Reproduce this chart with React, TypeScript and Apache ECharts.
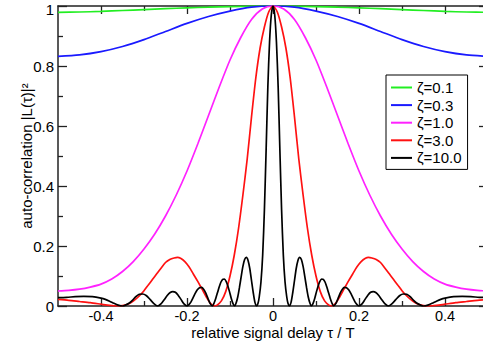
import React, { useEffect, useRef } from "react";
import * as echarts from "echarts";

const FONT = "'Liberation Sans', Arial, Helvetica, sans-serif";

const seriesNames = ["ζ=0.1", "ζ=0.3", "ζ=1.0", "ζ=3.0", "ζ=10.0"];
const seriesColors = ["#22ee22", "#1a1aff", "#ff22ff", "#ff1111", "#000000"];

const xMajorTicks = [-0.4, -0.2, 0, 0.2, 0.4];
const xMinorTicks = [-0.3, -0.1, 0.1, 0.3];

const zeta01: [number, number][] = [
  [-0.5, 0.979], [-0.45, 0.98], [-0.4, 0.982], [-0.35, 0.985], [-0.3, 0.988], [-0.25, 0.991],
  [-0.2, 0.994], [-0.15, 0.996], [-0.1, 0.998], [-0.05, 0.9995], [0, 1], [0.05, 0.9995],
  [0.1, 0.998], [0.15, 0.996], [0.2, 0.994], [0.25, 0.991], [0.3, 0.988], [0.35, 0.985],
  [0.4, 0.982], [0.45, 0.98], [0.5, 0.979],
];

const zeta03: [number, number][] = [
  [-0.5, 0.832], [-0.45, 0.837], [-0.4, 0.848], [-0.35, 0.865], [-0.3, 0.888], [-0.25, 0.915],
  [-0.2, 0.942], [-0.15, 0.965], [-0.1, 0.983], [-0.05, 0.996], [0, 1], [0.05, 0.996],
  [0.1, 0.983], [0.15, 0.965], [0.2, 0.942], [0.25, 0.915], [0.3, 0.888], [0.35, 0.865],
  [0.4, 0.848], [0.45, 0.837], [0.5, 0.832],
];

const zeta10: [number, number][] = [
  [-0.5, 0.05], [-0.475, 0.052], [-0.45, 0.056], [-0.425, 0.063], [-0.4, 0.073], [-0.375, 0.09],
  [-0.35, 0.115], [-0.325, 0.148], [-0.3, 0.19], [-0.275, 0.24], [-0.25, 0.3], [-0.225, 0.37],
  [-0.2, 0.45], [-0.175, 0.54], [-0.15, 0.635], [-0.125, 0.73], [-0.1, 0.82], [-0.075, 0.895],
  [-0.05, 0.955], [-0.025, 0.99], [0, 1], [0.025, 0.99], [0.05, 0.955], [0.075, 0.895],
  [0.1, 0.82], [0.125, 0.73], [0.15, 0.635], [0.175, 0.54], [0.2, 0.45], [0.225, 0.37],
  [0.25, 0.3], [0.275, 0.24], [0.3, 0.19], [0.325, 0.148], [0.35, 0.115], [0.375, 0.09],
  [0.4, 0.073], [0.425, 0.063], [0.45, 0.056], [0.475, 0.052], [0.5, 0.05],
];

const zeta30: [number, number][] = [
  [-0.5, 0.022], [-0.475, 0.019], [-0.45, 0.015], [-0.425, 0.011], [-0.4, 0.006], [-0.38, 0.002],
  [-0.362, 0], [-0.35, 0.0015], [-0.34, 0.005], [-0.33, 0.012], [-0.32, 0.022], [-0.31, 0.035],
  [-0.3, 0.051], [-0.29, 0.07], [-0.28, 0.089], [-0.27, 0.108], [-0.26, 0.127], [-0.25, 0.145],
  [-0.24, 0.155], [-0.23, 0.16], [-0.222, 0.162], [-0.215, 0.159], [-0.205, 0.148], [-0.195, 0.13],
  [-0.185, 0.106], [-0.175, 0.082], [-0.165, 0.056], [-0.155, 0.03], [-0.145, 0.008], [-0.137, 0],
  [-0.13, 0.003], [-0.12, 0.017], [-0.11, 0.048], [-0.1, 0.1], [-0.09, 0.17], [-0.08, 0.26],
  [-0.07, 0.37], [-0.06, 0.49], [-0.05, 0.63], [-0.04, 0.76], [-0.03, 0.86], [-0.02, 0.93],
  [-0.01, 0.98], [0, 1], [0.01, 0.98], [0.02, 0.93], [0.03, 0.86], [0.04, 0.76], [0.05, 0.63],
  [0.06, 0.49], [0.07, 0.37], [0.08, 0.26], [0.09, 0.17], [0.1, 0.1], [0.11, 0.048],
  [0.12, 0.017], [0.13, 0.003], [0.137, 0], [0.145, 0.008], [0.155, 0.03], [0.165, 0.056],
  [0.175, 0.082], [0.185, 0.106], [0.195, 0.13], [0.205, 0.148], [0.215, 0.159], [0.222, 0.162],
  [0.23, 0.16], [0.24, 0.155], [0.25, 0.145], [0.26, 0.127], [0.27, 0.108], [0.28, 0.089],
  [0.29, 0.07], [0.3, 0.051], [0.31, 0.035], [0.32, 0.022], [0.33, 0.012], [0.34, 0.005],
  [0.35, 0.0015], [0.362, 0], [0.38, 0.002], [0.4, 0.006], [0.425, 0.011], [0.45, 0.015],
  [0.475, 0.019], [0.5, 0.022],
];

const zeta100: [number, number][] = [
  [-0.5, 0.028], [-0.48, 0.029], [-0.46, 0.031], [-0.44, 0.032], [-0.42, 0.031], [-0.4, 0.026],
  [-0.39, 0.022], [-0.38, 0.016], [-0.37, 0.009], [-0.36, 0.003], [-0.35, 0], [-0.343, 0.003],
  [-0.335, 0.009], [-0.327, 0.019], [-0.319, 0.031], [-0.311, 0.039], [-0.303, 0.04], [-0.295, 0.035],
  [-0.286, 0.022], [-0.277, 0.008], [-0.268, 0], [-0.26, 0.008], [-0.253, 0.021], [-0.246, 0.035],
  [-0.239, 0.045], [-0.233, 0.048], [-0.227, 0.046], [-0.221, 0.037], [-0.214, 0.022], [-0.207, 0.007],
  [-0.2, 0], [-0.196, 0.004], [-0.191, 0.013], [-0.186, 0.027], [-0.181, 0.042], [-0.176, 0.054],
  [-0.171, 0.061], [-0.166, 0.062], [-0.161, 0.055], [-0.156, 0.042], [-0.151, 0.024], [-0.146, 0.008],
  [-0.141, 0], [-0.137, 0.01], [-0.133, 0.026], [-0.129, 0.045], [-0.125, 0.064], [-0.121, 0.08],
  [-0.117, 0.089], [-0.113, 0.09], [-0.109, 0.082], [-0.105, 0.067], [-0.101, 0.047], [-0.097, 0.025],
  [-0.093, 0.008], [-0.089, 0], [-0.086, 0.009], [-0.082, 0.03], [-0.078, 0.062], [-0.074, 0.098],
  [-0.07, 0.132], [-0.066, 0.155], [-0.062, 0.162], [-0.058, 0.152], [-0.054, 0.125], [-0.05, 0.085],
  [-0.046, 0.045], [-0.042, 0.012], [-0.038, 0], [-0.035, 0.008], [-0.032, 0.03], [-0.028, 0.08],
  [-0.024, 0.17], [-0.02, 0.32], [-0.016, 0.52], [-0.012, 0.73], [-0.008, 0.88], [-0.004, 0.97],
  [0, 1],
  [0.004, 0.97], [0.008, 0.88], [0.012, 0.73], [0.016, 0.52], [0.02, 0.32], [0.024, 0.17],
  [0.028, 0.08], [0.032, 0.03], [0.035, 0.008], [0.038, 0], [0.042, 0.012], [0.046, 0.045],
  [0.05, 0.085], [0.054, 0.125], [0.058, 0.152], [0.062, 0.162], [0.066, 0.155], [0.07, 0.132],
  [0.074, 0.098], [0.078, 0.062], [0.082, 0.03], [0.086, 0.009], [0.089, 0], [0.093, 0.008],
  [0.097, 0.025], [0.101, 0.047], [0.105, 0.067], [0.109, 0.082], [0.113, 0.09], [0.117, 0.089],
  [0.121, 0.08], [0.125, 0.064], [0.129, 0.045], [0.133, 0.026], [0.137, 0.01], [0.141, 0],
  [0.146, 0.008], [0.151, 0.024], [0.156, 0.042], [0.161, 0.055], [0.166, 0.062], [0.171, 0.061],
  [0.176, 0.054], [0.181, 0.042], [0.186, 0.027], [0.191, 0.013], [0.196, 0.004], [0.2, 0],
  [0.207, 0.007], [0.214, 0.022], [0.221, 0.037], [0.227, 0.046], [0.233, 0.048], [0.239, 0.045],
  [0.246, 0.035], [0.253, 0.021], [0.26, 0.008], [0.268, 0], [0.277, 0.008], [0.286, 0.022],
  [0.295, 0.035], [0.303, 0.04], [0.311, 0.039], [0.319, 0.031], [0.327, 0.019], [0.335, 0.009],
  [0.343, 0.003], [0.35, 0], [0.36, 0.003], [0.37, 0.009], [0.38, 0.016], [0.39, 0.022],
  [0.4, 0.026], [0.42, 0.031], [0.44, 0.032], [0.46, 0.031], [0.48, 0.029], [0.5, 0.028],
];

const seriesData = [zeta01, zeta03, zeta10, zeta30, zeta100];

const AXIS_COLOR = "#222";

function xAxisDef(position: "top" | "bottom", major: boolean, withLabels: boolean) {
  return {
    type: "value",
    position,
    min: -0.5,
    max: 0.5,
    splitLine: { show: false },
    axisLine: { show: major, onZero: false, lineStyle: { color: AXIS_COLOR, width: 1.5 } },
    axisTick: {
      show: true,
      inside: true,
      length: major ? 8 : 5,
      customValues: major ? xMajorTicks : xMinorTicks,
      lineStyle: { color: AXIS_COLOR, width: 1.3 },
    },
    axisLabel: withLabels
      ? {
          show: true,
          customValues: xMajorTicks,
          margin: 2,
          fontSize: 14.5,
          fontFamily: FONT,
          color: "#000",
          formatter: (v: number) => (v === 0 ? "0" : v.toFixed(1)),
        }
      : { show: false },
    ...(withLabels
      ? {
          name: "relative signal delay τ / T",
          nameLocation: "middle",
          nameGap: 18.5,
          nameMoveOverlap: false,
          nameTextStyle: { fontSize: 15, fontFamily: FONT, color: "#000", verticalAlign: "top" },
        }
      : {}),
  };
}

function yAxisDef(position: "left" | "right", withLabels: boolean) {
  return {
    type: "value",
    position,
    min: 0,
    max: 1,
    interval: 0.2,
    splitLine: { show: false },
    axisLine: { show: true, onZero: false, lineStyle: { color: AXIS_COLOR, width: 1.5 } },
    axisTick: { show: true, inside: true, length: 9, lineStyle: { color: AXIS_COLOR, width: 1.3 } },
    minorTick: { show: true, splitNumber: 2, length: 5, lineStyle: { color: AXIS_COLOR, width: 1.3 } },
    minorSplitLine: { show: false },
    axisLabel: withLabels
      ? {
          show: true,
          margin: 4,
          fontSize: 15,
          fontFamily: FONT,
          color: "#000",
          formatter: (v: number) => (v === 0 ? "0" : v === 1 ? "{top|1}" : v.toFixed(1)),
          rich: { top: { fontSize: 15, fontFamily: FONT, color: "#000", padding: [6, 0, 0, 0] } },
        }
      : { show: false },
    ...(withLabels
      ? {
          name: "auto-correlation |L(τ)|²",
          nameLocation: "middle",
          nameRotate: 90,
          nameGap: 24,
          nameMoveOverlap: false,
          nameTextStyle: { fontSize: 15, fontFamily: FONT, color: "#000" },
        }
      : {}),
  };
}

export default function App() {
  const ref = useRef<HTMLDivElement>(null);
  useEffect(() => {
    if (!ref.current) return;
    const chart = echarts.init(ref.current, null, { renderer: "svg" });
    const option: any = {
      animation: false,
      backgroundColor: "#ffffff",
      textStyle: { fontFamily: FONT },
      grid: { left: 58, top: 6, right: -5, bottom: 41, containLabel: false, outerBoundsMode: "none" },
      legend: {
        show: true,
        orient: "vertical",
        left: 386,
        top: 75,
        padding: [5, 6, 4, 5],
        itemGap: 2.6,
        itemWidth: 21,
        itemHeight: 2,
        icon: "rect",
        borderColor: "#000",
        borderWidth: 1,
        borderRadius: 0,
        backgroundColor: "#fff",
        textStyle: { fontSize: 15, color: "#000", fontFamily: FONT },
        data: seriesNames,
      },
      xAxis: [
        xAxisDef("bottom", true, true),
        xAxisDef("bottom", false, false),
        xAxisDef("top", true, false),
        xAxisDef("top", false, false),
      ],
      yAxis: [yAxisDef("left", true), yAxisDef("right", false)],
      series: seriesNames.map((name, i) => ({
        type: "line",
        name,
        data: seriesData[i],
        xAxisIndex: 0,
        yAxisIndex: 0,
        symbol: "none",
        showSymbol: false,
        smooth: 0.25,
        clip: true,
        lineStyle: { color: seriesColors[i], width: 1.7 },
        itemStyle: { color: seriesColors[i] },
        z: 2 + i,
      })),
    };
    chart.setOption(option);
    return () => chart.dispose();
  }, []);
  return (
    <div
      ref={ref}
      style={{ position: "fixed", left: 0, top: 0, width: 483, height: 347, background: "#fff" }}
    />
  );
}
